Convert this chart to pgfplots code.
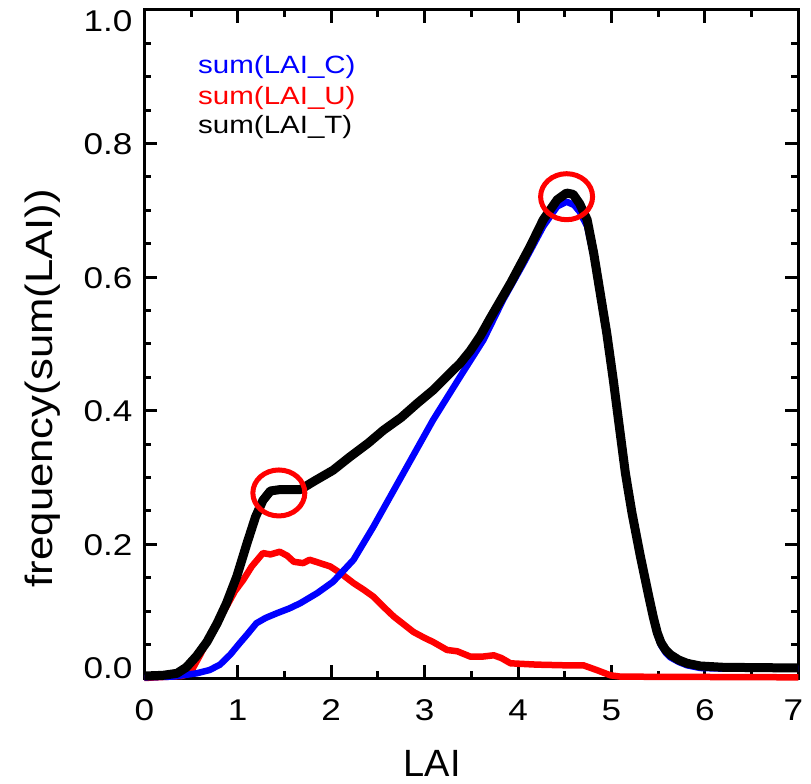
\documentclass[border=0pt]{standalone}
\usepackage{fontspec}
\setmainfont{Liberation Sans}
\newfontfamily\tickfont{Liberation Sans}[FakeStretch=1.17]
\newfontfamily\labfont{Liberation Sans}[FakeStretch=1.15]
\newfontfamily\legfont{Liberation Sans}[FakeStretch=1.18]
\usepackage{pgfplots}
\pgfplotsset{compat=1.18}

\pgfplotstableread{
x y
0.00 0.003
0.20 0.004
0.35 0.007
0.45 0.016
0.56 0.033
0.67 0.054
0.78 0.082
0.88 0.112
0.99 0.152
1.10 0.202
1.19 0.241
1.27 0.266
1.35 0.280
1.45 0.282
1.67 0.282
1.81 0.294
2.02 0.311
2.20 0.331
2.40 0.352
2.56 0.371
2.75 0.390
2.92 0.411
3.10 0.432
3.27 0.456
3.38 0.471
3.49 0.490
3.60 0.513
3.70 0.538
3.92 0.591
4.13 0.646
4.27 0.686
4.42 0.716
4.52 0.726
4.59 0.724
4.66 0.710
4.74 0.686
4.81 0.636
4.88 0.576
4.95 0.516
5.02 0.446
5.08 0.381
5.15 0.306
5.22 0.247
5.31 0.182
5.40 0.122
5.45 0.090
5.49 0.068
5.53 0.053
5.58 0.042
5.63 0.035
5.72 0.027
5.81 0.022
5.95 0.018
6.20 0.016
7.00 0.015
}\totaltable

\pgfplotstableread{
x y
0.00 0.001
0.30 0.002
0.56 0.007
0.70 0.012
0.81 0.020
0.92 0.035
1.02 0.052
1.10 0.065
1.20 0.082
1.30 0.090
1.42 0.097
1.55 0.104
1.67 0.112
1.85 0.127
2.02 0.144
2.24 0.177
2.45 0.226
2.67 0.281
2.77 0.306
3.09 0.386
3.38 0.451
3.63 0.506
3.84 0.566
4.06 0.621
4.27 0.676
4.42 0.706
4.52 0.713
4.60 0.708
4.66 0.698
4.74 0.676
4.81 0.630
4.88 0.572
4.95 0.512
5.02 0.442
5.08 0.378
5.15 0.303
5.22 0.244
5.31 0.180
5.40 0.120
5.45 0.088
5.49 0.064
5.53 0.049
5.58 0.038
5.63 0.031
5.72 0.024
5.81 0.019
5.95 0.015
6.20 0.014
7.00 0.014
}\canopytable

\pgfplotstableread{
x y
0.00 0.000
0.40 0.003
0.49 0.007
0.60 0.035
0.70 0.062
0.80 0.088
0.88 0.107
0.97 0.130
1.06 0.147
1.15 0.167
1.27 0.187
1.35 0.185
1.45 0.189
1.53 0.183
1.60 0.174
1.70 0.172
1.77 0.177
1.88 0.172
1.99 0.167
2.10 0.157
2.24 0.142
2.35 0.132
2.45 0.122
2.55 0.108
2.67 0.092
2.78 0.080
2.88 0.069
3.00 0.060
3.09 0.054
3.24 0.042
3.35 0.040
3.49 0.032
3.62 0.032
3.74 0.034
3.82 0.030
3.92 0.022
4.20 0.020
4.50 0.019
4.70 0.019
4.84 0.012
4.99 0.004
5.10 0.002
7.00 0.001
}\understorytable

\begin{document}
\begin{tikzpicture}
\useasboundingbox (-144.3pt,-106pt) rectangle (666.7pt,678pt);
\begin{axis}[
  scale only axis, width=654pt, height=668pt,
  xmin=0, xmax=7, ymin=0, ymax=1,
  clip=false,
  axis line style={line width=3pt, black},
  tick style={line width=3pt, black},
  major tick length=13pt, minor tick length=7pt,
  tick align=inside,
  xtick={0,1,2,3,4,5,6,7}, xticklabels={0,1,2,3,4,5,6,\hspace*{-10pt}7},
  minor x tick num=1,
  ytick={0,0.2,0.4,0.6,0.8,1.0},
  yticklabels={\raisebox{10pt}{0.0},0.2,0.4,0.6,0.8,\raisebox{-11pt}{1.0}},
  minor y tick num=3,
  xticklabel style={font=\tickfont\fontsize{30}{36}\selectfont, anchor=base, yshift=-42pt, inner sep=0pt},
  yticklabel style={font=\tickfont\fontsize{30}{36}\selectfont, anchor=base east, inner sep=0pt, xshift=-11.6pt, yshift=-11pt},
  xlabel={LAI},
  xlabel style={at={(axis description cs:0.44,-0.148)}, anchor=base, inner sep=0pt, font=\fontsize{38}{44}\selectfont},
  ylabel={frequency(sum(LAI))},
  ylabel style={at={(axis description cs:-0.141,0.434)}, anchor=base, rotate=0, inner sep=0pt, font=\labfont\fontsize{38}{44}\selectfont},
]
\addplot[red, line width=6.5pt, line join=round] table[x=x,y=y] {\understorytable};
\addplot[blue, line width=6.5pt, line join=round] table[x=x,y=y] {\canopytable};
\addplot[black, line width=9pt, line join=round] table[x=x,y=y] {\totaltable};
\addplot[only marks, mark=o, mark size=23pt, red, mark options={line width=5pt, xscale=1.13}] coordinates {(1.44,0.277) (4.52,0.7205)};
\node[anchor=base west, inner sep=0pt, text=blue, font=\legfont\fontsize{25}{30}\selectfont] at (axis cs:0.575,0.905) {sum(LAI\_C)};
\node[anchor=base west, inner sep=0pt, text=red, font=\legfont\fontsize{25}{30}\selectfont] at (axis cs:0.575,0.859) {sum(LAI\_U)};
\node[anchor=base west, inner sep=0pt, text=black, font=\legfont\fontsize{25}{30}\selectfont] at (axis cs:0.575,0.815) {sum(LAI\_T)};
\end{axis}
\end{tikzpicture}
\end{document}
